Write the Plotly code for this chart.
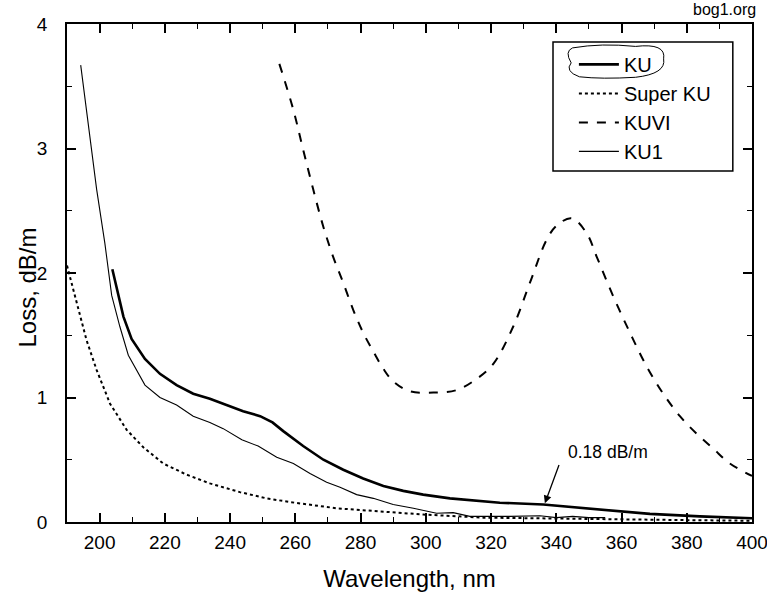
import plotly.graph_objects as go

ku_x = [203.9, 207.3, 209.8, 213.9, 218.5, 223.6, 228.7, 233.8, 238.9, 244.0, 249.2, 253.0,
        256.3, 262.4, 268.6, 274.7, 280.8, 287.0, 293.1, 299.2, 307.4, 315.6, 322.7, 336.0,
        353.4, 368.7, 384.0, 400.0]
ku_y = [2.03, 1.65, 1.47, 1.31, 1.19, 1.10, 1.03, 0.99, 0.94, 0.89, 0.85, 0.80,
        0.73, 0.61, 0.50, 0.42, 0.35, 0.29, 0.25, 0.22, 0.19, 0.17, 0.155, 0.14,
        0.10, 0.065, 0.045, 0.03]

superku_x = [190.0, 193.0, 196.0, 199.1, 203.2, 208.3, 213.4, 219.5, 226.7, 233.8, 243.0,
             251.2, 258.4, 272.7, 285.0, 299.2, 317.6, 340.0, 360.0, 380.0, 400.0]
superku_y = [2.06, 1.76, 1.46, 1.22, 0.95, 0.74, 0.60, 0.47, 0.38, 0.31, 0.24,
             0.19, 0.16, 0.11, 0.085, 0.06, 0.035, 0.03, 0.02, 0.015, 0.01]

kuvi_x = [255.1, 259.4, 262.4, 265.5, 268.6, 271.6, 274.7, 277.8, 280.8, 283.9, 287.0,
          290.0, 295.1, 302.3, 309.5, 315.6, 320.7, 326.8, 331.9, 337.1, 340.1, 344.7,
          349.3, 352.4, 357.5, 362.6, 367.7, 372.8, 377.9, 383.0, 388.1, 393.2, 400.0]
kuvi_y = [3.68, 3.31, 2.99, 2.67, 2.37, 2.13, 1.92, 1.70, 1.52, 1.37, 1.23,
          1.13, 1.05, 1.04, 1.06, 1.15, 1.27, 1.57, 1.92, 2.27, 2.38, 2.44,
          2.32, 2.13, 1.81, 1.52, 1.25, 1.03, 0.85, 0.71, 0.59, 0.47, 0.37]

ku1_x = [194.2, 199.1, 201.6, 203.7, 206.2, 208.8, 213.9, 218.5, 223.6, 228.7, 233.8,
         237.9, 243.6, 248.6, 254.3, 259.4, 264.5, 269.6, 273.7, 278.8, 283.9, 290.0,
         296.2, 303.3, 308.4, 313.5, 325.8, 335.0, 340.0, 345.0, 350.0, 355.0]
ku1_y = [3.67, 2.67, 2.24, 1.82, 1.57, 1.34, 1.10, 1.00, 0.94, 0.85, 0.80,
         0.75, 0.66, 0.61, 0.52, 0.47, 0.39, 0.32, 0.28, 0.22, 0.19, 0.14,
         0.11, 0.07, 0.075, 0.045, 0.045, 0.05, 0.035, 0.045, 0.035, 0.035]

xticks = [200, 220, 240, 260, 280, 300, 320, 340, 360, 380, 400]
yticks = [0, 1, 2, 3, 4]

FONT = "Liberation Sans, Arial, sans-serif"

fig = go.Figure()
fig.add_trace(go.Scatter(x=ku_x, y=ku_y, mode="lines", name="KU", legendgroup="a",
                         line=dict(color="black", width=2.6)))
fig.add_trace(go.Scatter(x=superku_x, y=superku_y, mode="lines", name="Super KU", legendgroup="b",
                         line=dict(color="black", width=2, dash="dot")))
fig.add_trace(go.Scatter(x=kuvi_x, y=kuvi_y, mode="lines", name="KUVI", legendgroup="c",
                         line=dict(color="black", width=2, dash="dash", shape="spline")))
fig.add_trace(go.Scatter(x=ku1_x, y=ku1_y, mode="lines", name="KU1", legendgroup="d",
                         line=dict(color="black", width=1.1)))

fig.add_annotation(x=336.5, y=0.15, ax=341, ay=0.47, xref="x", yref="y", axref="x", ayref="y",
                   text="", showarrow=True, arrowhead=2, arrowsize=1.2, arrowwidth=1.3,
                   arrowcolor="black")
fig.add_annotation(x=356, y=0.565, xref="x", yref="y", text="0.18 dB/m", showarrow=False,
                   font=dict(family=FONT, size=17.5, color="black"))
fig.add_annotation(x=1, y=1, xref="paper", yref="paper", xanchor="right", yanchor="bottom",
                   xshift=6, yshift=4, text="bog1.org", showarrow=False,
                   font=dict(family=FONT, size=16, color="black"))
# y-axis title
fig.add_annotation(x=-0.0575, y=0.47, xref="paper", yref="paper", textangle=-90,
                   xanchor="center", yanchor="middle",
                   text="Loss, dB/m", showarrow=False,
                   font=dict(family=FONT, size=24, color="black"))

# legend frame
fig.add_shape(type="rect", xref="paper", yref="paper", layer="above",
              x0=0.7095, x1=0.972, y0=0.705, y1=0.964,
              line=dict(color="black", width=1.5))
# hand-drawn outline around the KU legend entry
fig.add_shape(type="path", xref="paper", yref="paper", layer="above",
              path="M 0.738 0.952 Q 0.78 0.962 0.83 0.955 Q 0.875 0.962 0.871 0.93 "
                   "Q 0.875 0.9 0.83 0.893 Q 0.78 0.889 0.748 0.894 Q 0.726 0.905 0.736 0.922 "
                   "Q 0.726 0.945 0.738 0.952 Z",
              line=dict(color="black", width=1))

axis_common = dict(showline=True, linecolor="black", linewidth=1.8, mirror="allticks",
                   ticks="inside", ticklen=9, tickwidth=1.5, tickcolor="black",
                   showgrid=False, zeroline=False, ticklabeloverflow="allow",
                   automargin=False,
                   tickfont=dict(family=FONT, size=19, color="black"))

fig.update_xaxes(range=[190, 400], tickvals=xticks, ticktext=[str(v) for v in xticks],
                 minor=dict(dtick=10, ticks="inside", ticklen=5, tickwidth=1.2, tickcolor="black"),
                 ticklabelstandoff=2,
                 title=dict(text="Wavelength, nm", font=dict(family=FONT, size=24, color="black"),
                            standoff=18),
                 **axis_common)
fig.update_yaxes(range=[0, 4], tickvals=yticks, ticktext=[str(v) for v in yticks],
                 minor=dict(dtick=0.5, ticks="inside", ticklen=5, tickwidth=1.2, tickcolor="black"),
                 ticklabelstandoff=14,
                 **axis_common)

fig.update_layout(
    width=767, height=599,
    margin=dict(l=67, r=15, t=24, b=77),
    paper_bgcolor="white", plot_bgcolor="white",
    showlegend=True,
    legend=dict(x=0.740, y=0.958, xanchor="left", yanchor="top",
                borderwidth=0, bgcolor="rgba(0,0,0,0)",
                font=dict(family=FONT, size=20, color="black"),
                tracegroupgap=0, itemwidth=40),
)

fig.write_html("out.html")
